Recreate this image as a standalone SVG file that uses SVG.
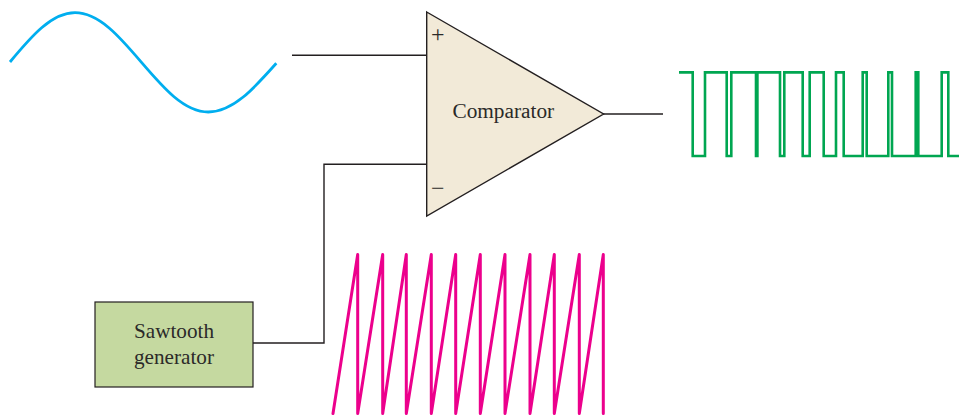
<svg xmlns="http://www.w3.org/2000/svg" width="959" height="417" viewBox="0 0 959 417">
<style>
.t{font-family:"Liberation Serif","Times New Roman",serif;fill:#2b2a29;text-anchor:middle}
.w{fill:none;stroke:#231f20;stroke-width:1.4}
.o{fill:none;stroke-linejoin:miter;stroke-linecap:butt}
</style>
<rect width="959" height="417" fill="#fff"/>
<g id="connectors">
<path class="w" d="M292 55.3H427"/>
<path class="w" d="M253 343H324V164.3H427"/>
<path class="w" d="M603 114H663"/>
</g>
<g id="comparator">
<polygon points="426.7,12 603.6,114 426.7,216" fill="#f2ead8" stroke="#231f20" stroke-width="1.4" stroke-linejoin="miter"/>
<text class="t" x="503.3" y="118" font-size="21.3">Comparator</text>
<text class="t" x="437.7" y="41.5" font-size="24">+</text>
<text class="t" x="437.7" y="196.3" font-size="24">−</text>
</g>
<g id="sawtooth-generator">
<rect x="95" y="302" width="158" height="85" fill="#c5d9a0" stroke="#231f20" stroke-width="1.2"/>
<text class="t" x="174" y="338" font-size="21.2">Sawtooth</text>
<text class="t" x="174" y="364" font-size="21.2">generator</text>
</g>
<g id="sine-wave">
<path class="o" stroke="#00aeef" stroke-width="2.8" d="M10 62C31.2 36.5 51.5 12.7 75 12.7C99.1 12.7 119.8 36.9 141.5 62.4C163.3 87.8 184.1 112 208.3 112C232.9 112 254.1 88.3 276.3 63.3"/>
</g>
<g id="sawtooth-wave">
<path fill="none" stroke="#ec008c" stroke-width="3" stroke-linejoin="round" stroke-linecap="round" d="M333 413.5L357.7 254.5V413.5L382.7 254.5V413.5L406.3 254.5V413.5L431.3 254.5V413.5L455.7 254.5V413.5L480.3 254.5V413.5L505 254.5V413.5L530 254.5V413.5L554.3 254.5V413.5L579.3 254.5V413.5L603.3 254.5V413.5"/>
</g>
<g id="output-wave">
<path class="o" stroke="#00a651" stroke-width="2.6" d="M679 72.4H692.7V156H705V72.4H726.7V156H731.3V72.4H756V156H757.4V72.4H780V156H784.3V72.4H802.7V156H809.7V72.4H823.7V156H836V72.4H843.7V156H862.7V72.4H866.7V156H888.3V72.4H892V156H915.7V72.4H918.3V156H941.7V72.4H948.3V156H959"/>
</g>
</svg>
